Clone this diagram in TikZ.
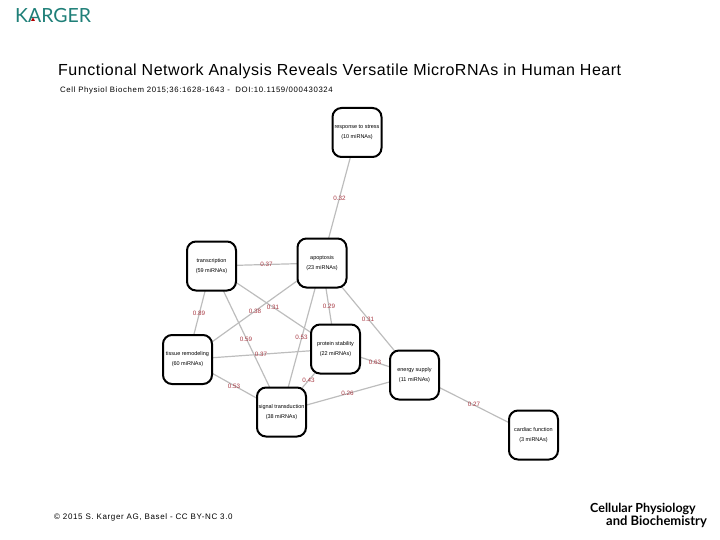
\documentclass[tikz,border=0pt]{standalone}
\usepackage{fontspec}
\setmainfont{Liberation Sans}
\newfontfamily\spaced[LetterSpace=8]{Liberation Sans}
\newfontfamily\titlefont[LetterSpace=3.3]{Liberation Sans}
\newfontfamily\logofont{Lato}
\usetikzlibrary{backgrounds}
\definecolor{kteal}{HTML}{1F7F78}
\definecolor{labred}{HTML}{A83A44}
\definecolor{edgegray}{HTML}{BDBDBD}
\tikzset{
  x=1pt,y=-1pt,
  topic/.style={draw=black,line width=2pt,fill=white,rounded corners=9pt,minimum width=49pt,minimum height=49pt,inner sep=0pt,align=center,font=\fontsize{5.5}{10}\selectfont},
  link/.style={draw=edgegray,line width=1.2pt},
  weight/.style={text=labred,inner sep=0pt,font=\fontsize{6.3}{7}\selectfont},
  caption/.style={anchor=west,inner sep=0pt}
}
\begin{document}
\begin{tikzpicture}
\useasboundingbox (0,0) rectangle (720,540);
\node[anchor=west,inner sep=0pt,text=kteal,font=\logofont\fontsize{19.5}{20}\selectfont] (karger) at (15,16) {KARGER};
\fill[red!70!black] (33,17.5) -- (35,21) -- (31,21) -- cycle;
\node[caption,font=\titlefont\fontsize{16}{17}\selectfont] (title) at (58,71) {Functional Network Analysis Reveals Versatile MicroRNAs in Human Heart};
\node[caption,font=\spaced\fontsize{7.8}{10}\selectfont] (cite) at (60,90) {Cell Physiol Biochem 2015;36:1628-1643 -\ \ DOI:10.1159/000430324};
\node[caption,font=\spaced\fontsize{8}{10}\selectfont] (foot) at (54,517) {© 2015 S. Karger AG, Basel - CC BY-NC 3.0};
\node[caption,font=\logofont\bfseries\fontsize{12.5}{14}\selectfont] (cp) at (590,509) {Cellular Physiology};
\node[caption,font=\logofont\bfseries\fontsize{13}{14}\selectfont] (bc) at (606,522) {and Biochemistry};

\node[topic] (response) at (357,132.5) {response to stress\\(10 miRNAs)};
\node[topic] (apoptosis) at (322,263) {apoptosis\\(23 miRNAs)};
\node[topic] (transcription) at (211.5,266) {transcription\\(59 miRNAs)};
\node[topic] (tissue) at (187.5,359.5) {tissue remodeling\\(60 miRNAs)};
\node[topic] (protein) at (335.5,349) {protein stability\\(22 miRNAs)};
\node[topic] (signal) at (281.5,412) {signal transduction\\(38 miRNAs)};
\node[topic] (energy) at (414.5,375) {energy supply\\(11 miRNAs)};
\node[topic] (cardiac) at (533.5,435) {cardiac function\\(3 miRNAs)};

\begin{pgfonlayer}{background}
\foreach \a/\b in {response/apoptosis,transcription/apoptosis,transcription/tissue,transcription/signal,transcription/protein,apoptosis/tissue,apoptosis/signal,apoptosis/protein,apoptosis/energy,tissue/protein,tissue/signal,protein/signal,protein/energy,signal/energy,energy/cardiac}
  \draw[link] (\a.center) -- (\b.center);
\end{pgfonlayer}

\node[weight] (w1) at (339.5,198) {0.32};
\node[weight] (w2) at (266.5,264.5) {0.37};
\node[weight] (w3) at (199,313) {0.89};
\node[weight] (w4) at (246,339) {0.59};
\node[weight] (w5) at (273,307.5) {0.31};
\node[weight] (w6) at (255,311.5) {0.38};
\node[weight] (w7) at (301.5,337.5) {0.53};
\node[weight] (w8) at (329,306) {0.29};
\node[weight] (w9) at (368,319) {0.31};
\node[weight] (w10) at (261,354) {0.37};
\node[weight] (w11) at (234,386) {0.53};
\node[weight] (w12) at (308.5,380) {0.43};
\node[weight] (w13) at (375,362) {0.63};
\node[weight] (w14) at (347.5,393.5) {0.26};
\node[weight] (w15) at (474,404) {0.27};
\end{tikzpicture}
\end{document}
